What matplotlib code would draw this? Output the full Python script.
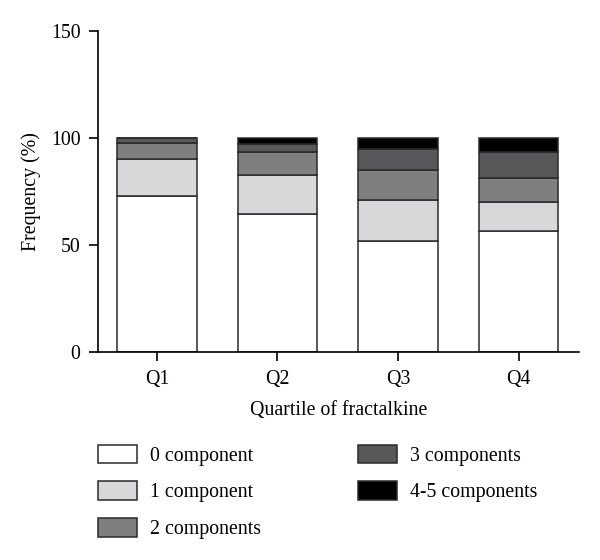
import numpy as np
import matplotlib
matplotlib.use("Agg")
import matplotlib.pyplot as plt

plt.rcParams['font.family'] = ['Liberation Serif', 'DejaVu Serif']

# values (percent per quartile)
quartiles = ['Q1', 'Q2', 'Q3', 'Q4']
labels = ['0 component', '1 component', '2 components', '3 components', '4-5 components']
comp0 = [72.9, 64.7, 51.8, 56.6]
comp1 = [17.3, 17.8, 19.4, 13.4]
comp2 = [7.5, 11.0, 13.7, 11.5]
comp3 = [2.3, 3.9, 9.8, 11.8]
comp45 = [0.0, 2.6, 5.3, 6.7]
colors = ['#ffffff', '#d8d8da', '#7f7f7f', '#58585a', '#000000']

fs = 14.3

fig = plt.figure(figsize=(6, 5.6), dpi=100)
ax = fig.add_axes([0.163, 0.371, 0.802, 0.574])

x = np.arange(len(quartiles))
bottom = np.zeros(len(quartiles))
handles = []
for vals, lab, col in zip([comp0, comp1, comp2, comp3, comp45], labels, colors):
    b = ax.bar(x, vals, width=0.66, bottom=bottom, color=col,
               edgecolor='#2a2a2a', linewidth=1.1, label=lab)
    handles.append(b)
    bottom += np.array(vals)

ax.set_ylim(0, 150)
ax.set_xlim(-0.49, 3.5)
ax.set_yticks([0, 50, 100, 150])
ax.set_xticks(x)
ax.set_xticklabels(quartiles)
ax.spines['top'].set_visible(False)
ax.spines['right'].set_visible(False)
for s in ['left', 'bottom']:
    ax.spines[s].set_linewidth(1.2)
ax.tick_params(axis='both', length=6.5, width=1.2, labelsize=fs, pad=6)
ax.set_ylabel('Frequency (%)', fontsize=fs, labelpad=7)
ax.set_xlabel('Quartile of fractalkine', fontsize=fs, labelpad=9)

fig.legend(handles=handles, loc='upper left', bbox_to_anchor=(0.133, 0.238),
           ncol=2, frameon=False, fontsize=fs, handlelength=2.0,
           handleheight=1.05, labelspacing=0.8, columnspacing=4.85,
           handletextpad=0.65)

fig.savefig('out.png', dpi=100)
